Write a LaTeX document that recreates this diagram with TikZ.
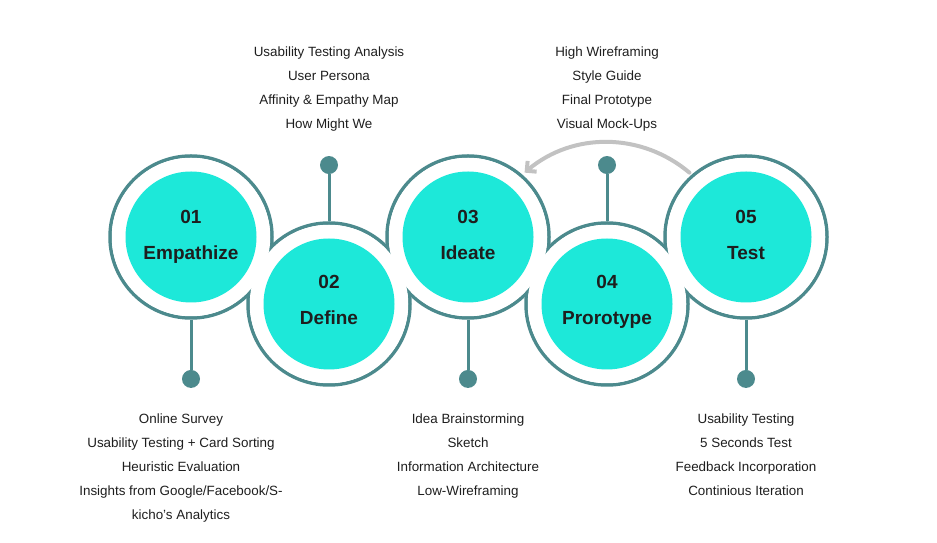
\documentclass[tikz,border=0pt]{standalone}
\usepackage{fontspec}
\setmainfont{Liberation Sans}
\usetikzlibrary{arrows.meta, positioning}
\definecolor{RingTeal}{HTML}{4C8A8D}
\definecolor{StageCyan}{HTML}{1DE8D9}
\definecolor{LoopGray}{HTML}{C2C2C2}
\definecolor{TextDark}{HTML}{1E1E1E}

\begin{document}
\begin{tikzpicture}[x=1pt, y=1pt,
  ring/.style={circle, draw=RingTeal, line width=3.5pt, minimum size=162pt, inner sep=0pt},
  cover/.style={circle, fill=white, minimum size=158.5pt, inner sep=0pt},
  stage/.style={circle, fill=StageCyan, minimum size=131pt, inner sep=0pt},
  stagetext/.style={align=center, font=\fontsize{19}{36}\selectfont\bfseries, text=TextDark, inner sep=0pt},
  knob/.style={circle, fill=RingTeal, minimum size=18pt, inner sep=0pt},
  stem/.style={RingTeal, line width=3pt},
  notes/.style={align=center, font=\fontsize{13.4}{24}\selectfont, text=TextDark, inner sep=0pt},
  backarrow/.style={-{Straight Barb[length=7pt, width=14pt]}, LoopGray, line width=4pt, line cap=round}
]
\useasboundingbox (0,0) rectangle (937,543);

% outer rings first, then white covers, so only the outline of the union shows
\node[ring] (ring1) at (191,306) {};
\node[ring] (ring2) at (329,239) {};
\node[ring] (ring3) at (468,306) {};
\node[ring] (ring4) at (607,239) {};
\node[ring] (ring5) at (746,306) {};

\node[cover] (cover1) at (ring1) {};
\node[cover] (cover2) at (ring2) {};
\node[cover] (cover3) at (ring3) {};
\node[cover] (cover4) at (ring4) {};
\node[cover] (cover5) at (ring5) {};

\node[stage] (emp) at (ring1) {};
\node[stage] (def) at (ring2) {};
\node[stage] (ide) at (ring3) {};
\node[stage] (pro) at (ring4) {};
\node[stage] (tes) at (ring5) {};

\node[stagetext] (emptext) at ([yshift=0pt]emp) {01\\Empathize};
\node[stagetext] (deftext) at ([yshift=4pt]def) {02\\Define};
\node[stagetext] (idetext) at ([yshift=2pt]ide) {03\\Ideate};
\node[stagetext] (protext) at ([yshift=2pt]pro) {04\\Prorotype};
\node[stagetext] (testext) at ([yshift=2pt]tes) {05\\Test};

% pins
\node[knob, below=50pt of ring1] (dot1) {};
\node[knob, above=47pt of ring2] (dot2) {};
\node[knob, below=50pt of ring3] (dot3) {};
\node[knob, above=47pt of ring4] (dot4) {};
\node[knob, below=50pt of ring5] (dot5) {};

\draw[stem] (ring1.south) -- (dot1);
\draw[stem] (ring2.north) -- (dot2);
\draw[stem] (ring3.south) -- (dot3);
\draw[stem] (ring4.north) -- (dot4);
\draw[stem] (ring5.south) -- (dot5);

% notes
\node[notes, below=25pt of dot1, xshift=-10pt] (empnotes) {Online Survey\\Usability Testing + Card Sorting\\Heuristic Evaluation\\Insights from Google/Facebook/S-\\kicho's Analytics};
\node[notes, above=24pt of dot2] (defnotes) {Usability Testing Analysis\\User Persona\\Affinity \& Empathy Map\\How Might We};
\node[notes, below=25pt of dot3] (idenotes) {Idea Brainstorming\\Sketch\\Information Architecture\\Low-Wireframing};
\node[notes, above=24pt of dot4] (pronotes) {High Wireframing\\Style Guide\\Final Prototype\\Visual Mock-Ups};
\node[notes, below=25pt of dot5] (tesnotes) {Usability Testing\\5 Seconds Test\\Feedback Incorporation\\Continious Iteration};

\draw[backarrow, shorten <=3pt, shorten >=3pt] (ring5.131) to[bend right=40] (ring3.49);
\end{tikzpicture}
\end{document}
